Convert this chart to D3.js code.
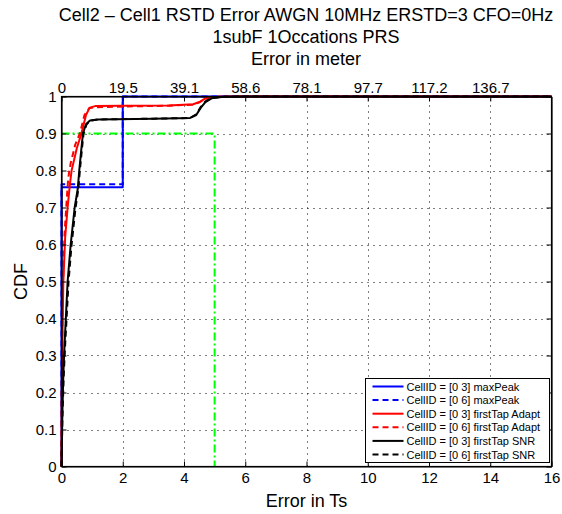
<!DOCTYPE html>
<html>
<head>
<meta charset="utf-8">
<script src="https://cdn.jsdelivr.net/npm/d3@7"></script>
<style>
  body { margin: 0; background: #fff; }
  svg { font-family: "Liberation Sans", Arial, sans-serif; }
</style>
</head>
<body>
<div id="chart"></div>
<script>
// Title lines
const titleLines = ["Cell2 \u2013 Cell1 RSTD Error AWGN 10MHz ERSTD=3 CFO=0Hz", "1subF 1Occations PRS", "Error in meter"];

// Axis ticks
const xTicks = [0, 2, 4, 6, 8, 10, 12, 14, 16];
const yTicks = [0, 0.1, 0.2, 0.3, 0.4, 0.5, 0.6, 0.7, 0.8, 0.9, 1];
const topTicks = [0, 2, 4, 6, 8, 10, 12, 14];
const topLabels = ["0", "19.5", "39.1", "58.6", "78.1", "97.7", "117.2", "136.7"];

// CDF curves: [error in Ts, cdf]
const maxPeak03 = [[0, 0], [0, 0.755], [2, 0.755], [2, 1], [16, 1]];
const maxPeak06 = [[0, 0], [0, 0.763], [2, 0.763], [2, 1], [16, 1]];
const adapt03 = [[0, 0], [0.01, 0.2], [0.03, 0.35], [0.06, 0.5], [0.12, 0.62], [0.2, 0.7], [0.27, 0.76], [0.33, 0.8], [0.5, 0.86], [0.65, 0.9], [0.8, 0.95], [0.92, 0.97], [1.1, 0.974], [2, 0.975], [3.5, 0.976], [4.3, 0.979], [4.5, 0.985], [4.7, 0.995], [5.1, 0.999], [6, 1], [16, 1]];
const adapt06 = [[0, 0], [0.01, 0.22], [0.03, 0.38], [0.05, 0.5], [0.1, 0.63], [0.17, 0.72], [0.22, 0.78], [0.3, 0.82], [0.45, 0.87], [0.6, 0.9], [0.75, 0.95], [0.9, 0.968], [1.1, 0.971], [2, 0.973], [3.5, 0.975], [4.3, 0.978], [4.5, 0.984], [4.7, 0.994], [5.1, 0.999], [6, 1], [16, 1]];
const snr03 = [[0, 0], [0.03, 0.15], [0.06, 0.25], [0.1, 0.33], [0.2, 0.5], [0.3, 0.6], [0.43, 0.7], [0.53, 0.75], [0.58, 0.8], [0.65, 0.86], [0.7, 0.9], [0.8, 0.925], [0.93, 0.935], [1.2, 0.938], [3, 0.94], [4.2, 0.942], [4.4, 0.95], [4.55, 0.97], [4.7, 0.985], [4.9, 0.995], [5.3, 0.999], [6, 1], [16, 1]];
const snr06 = [[0, 0], [0.03, 0.13], [0.07, 0.24], [0.12, 0.33], [0.23, 0.5], [0.33, 0.6], [0.46, 0.7], [0.55, 0.75], [0.6, 0.8], [0.67, 0.86], [0.72, 0.9], [0.82, 0.925], [0.95, 0.935], [1.2, 0.938], [3, 0.94], [4.2, 0.942], [4.4, 0.952], [4.55, 0.972], [4.7, 0.987], [4.9, 0.996], [5.3, 0.999], [6, 1], [16, 1]];
const target90 = [[0, 0.9], [5, 0.9], [5, 0]];

const series = [
  { name: "CellID = [0 3] maxPeak", data: maxPeak03, color: "#0000ff", dash: null },
  { name: "CellID = [0 6] maxPeak", data: maxPeak06, color: "#0000ff", dash: "6,4" },
  { name: "CellID = [0 3] firstTap Adapt", data: adapt03, color: "#ff0000", dash: null },
  { name: "CellID = [0 6] firstTap Adapt", data: adapt06, color: "#ff0000", dash: "6,4" },
  { name: "CellID = [0 3] firstTap SNR", data: snr03, color: "#000000", dash: null },
  { name: "CellID = [0 6] firstTap SNR", data: snr06, color: "#000000", dash: "6,4" }
];

const width = 562, height = 514;
const margin = { left: 61.5, right: 10.5, top: 96.5, bottom: 47.5 };
const iw = width - margin.left - margin.right;
const ih = height - margin.top - margin.bottom;

const svg = d3.select("#chart").append("svg").attr("width", width).attr("height", height);

const x = d3.scaleLinear().domain([0, 16]).range([margin.left, margin.left + iw]);
const y = d3.scaleLinear().domain([0, 1]).range([margin.top + ih, margin.top]);

// title
svg.selectAll(".title")
  .data(titleLines)
  .enter().append("text")
  .attr("x", 306)
  .attr("y", (d, i) => 21 + i * 22)
  .attr("text-anchor", "middle")
  .attr("font-size", 18)
  .text(d => d);

// grid
const grid = svg.append("g").attr("stroke", "#000").attr("stroke-width", 1).attr("stroke-dasharray", "1,5");
grid.selectAll(".gx").data(xTicks.slice(1, -1)).enter().append("line")
  .attr("x1", d => Math.round(x(d)) + 0.5).attr("x2", d => Math.round(x(d)) + 0.5)
  .attr("y1", y(0)).attr("y2", y(1));
grid.selectAll(".gy").data(yTicks.slice(1, -1)).enter().append("line")
  .attr("x1", x(0)).attr("x2", x(16))
  .attr("y1", d => Math.round(y(d)) + 0.5).attr("y2", d => Math.round(y(d)) + 0.5);

// curves
const line = d3.line().x(d => x(d[0])).y(d => y(d[1]));
const plot = svg.append("g");

plot.append("path")
  .datum(target90)
  .attr("fill", "none")
  .attr("stroke", "#00ff00")
  .attr("stroke-width", 2)
  .attr("stroke-dasharray", "8,3,2,3")
  .attr("d", line);

series.forEach(s => {
  plot.append("path")
    .datum(s.data)
    .attr("fill", "none")
    .attr("stroke", s.color)
    .attr("stroke-width", 2)
    .attr("stroke-dasharray", s.dash)
    .attr("stroke-linejoin", "round")
    .attr("d", line);
});

// axes
const tickSize = 5;
const axBottom = svg.append("g").attr("transform", `translate(0,${y(0)})`)
  .call(d3.axisBottom(x).tickValues(xTicks).tickSizeInner(-tickSize).tickSizeOuter(0).tickPadding(6));
const axLeft = svg.append("g").attr("transform", `translate(${x(0)},0)`)
  .call(d3.axisLeft(y).tickValues(yTicks).tickFormat(d3.format("")).tickSizeInner(-tickSize).tickSizeOuter(0).tickPadding(5));
const axTop = svg.append("g").attr("transform", `translate(0,${y(1)})`)
  .call(d3.axisTop(x).tickValues(topTicks).tickFormat((d, i) => topLabels[i]).tickSizeInner(-tickSize).tickSizeOuter(0).tickPadding(4));
const axRight = svg.append("g").attr("transform", `translate(${x(16)},0)`)
  .call(d3.axisRight(y).tickValues(yTicks).tickFormat("").tickSizeInner(-tickSize).tickSizeOuter(0));

[axBottom, axLeft, axTop, axRight].forEach(g => {
  g.selectAll("text").attr("font-size", 15).attr("fill", "#000").attr("font-family", "Liberation Sans, Arial, sans-serif");
  g.selectAll("line").attr("stroke", "#000");
  g.select(".domain").attr("stroke", "#000").attr("stroke-width", 1.2);
});

// plot frame
svg.append("rect")
  .attr("x", x(0)).attr("y", y(1))
  .attr("width", x(16) - x(0)).attr("height", y(0) - y(1))
  .attr("fill", "none").attr("stroke", "#000").attr("stroke-width", 1.2);

// axis labels
svg.append("text")
  .attr("x", x(8)).attr("y", 507)
  .attr("text-anchor", "middle").attr("font-size", 18)
  .text("Error in Ts");
svg.append("text")
  .attr("transform", `translate(27,${y(0.5)}) rotate(-90)`)
  .attr("text-anchor", "middle").attr("font-size", 18)
  .text("CDF");

// legend
const lg = svg.append("g").attr("transform", "translate(365.5,378.5)");
lg.append("rect").attr("width", 184).attr("height", 84)
  .attr("fill", "#fff").attr("stroke", "#000").attr("stroke-width", 1);
series.forEach((s, i) => {
  const yy = 8 + i * 13.6;
  lg.append("line")
    .attr("x1", 7).attr("x2", 38).attr("y1", yy).attr("y2", yy)
    .attr("stroke", s.color).attr("stroke-width", 2)
    .attr("stroke-dasharray", s.dash);
  lg.append("text")
    .attr("x", 41).attr("y", yy + 4)
    .attr("font-size", 11)
    .text(s.name);
});
</script>
</body>
</html>
